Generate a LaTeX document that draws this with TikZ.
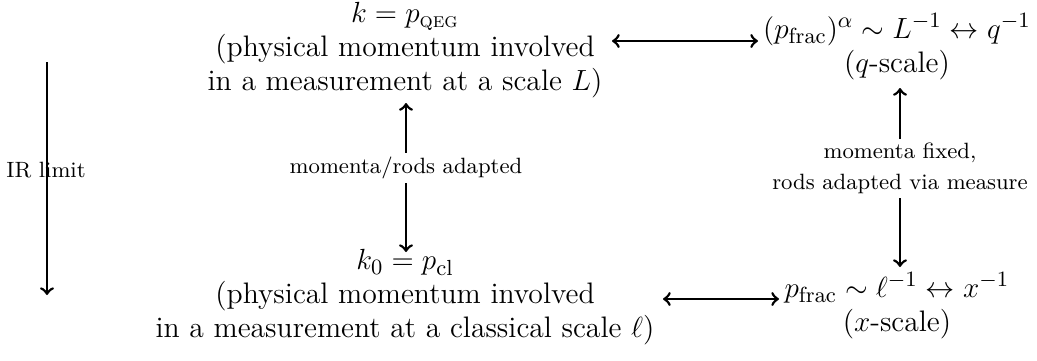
\documentclass[tikz,border=0pt]{standalone}
\usepackage{amsmath}
\begin{document}
\begin{tikzpicture}[x=0.4115pt,y=-0.4115pt,>=to,
  conn/.style={line width=1.1pt},
  blk/.style={align=center,font=\fontsize{12.2}{13.8}\selectfont,inner sep=0pt,anchor=base},
  lbl/.style={font=\fontsize{9.1}{12.8}\selectfont,align=center,inner sep=1.5pt},
  lblw/.style={lbl,fill=white}]
\useasboundingbox (0,0) rectangle (1037,360);
% nodes (anchored at the baseline of their last line)
\node[blk] (tl) at (405,90) {$k=p_{\textsc{qeg}}$\\(physical momentum involved\\in a measurement at a scale $L$)};
\node[blk] (tr) at (897,72) {$(p_{\mathrm{frac}})^{\alpha}\sim L^{-1}\leftrightarrow q^{-1}$\\($q$-scale)};
\node[blk] (bl) at (405,337) {$k_0=p_{\mathrm{cl}}$\\(physical momentum involved\\in a measurement at a classical scale $\ell$)};
\node[blk] (br) at (897,331) {$p_{\mathrm{frac}}\sim \ell^{-1}\leftrightarrow x^{-1}$\\($x$-scale)};
% coordinates
\coordinate (a1) at (612,41);
\coordinate (a2) at (758,41);
\coordinate (b1) at (663,299);
\coordinate (b2) at (779,299);
\coordinate (m1) at (406,103);
\coordinate (m2) at (406,252);
\coordinate (r1) at (900,88);
\coordinate (r2) at (900,267);
\coordinate (i1) at (47,62);
\coordinate (i2) at (47,295);
% connectors
\draw[conn,<->] (a1) -- (a2);
\draw[conn,<->] (b1) -- (b2);
\draw[conn,<->] (m1) -- node[lblw,pos=0.436] (ml) {momenta/rods adapted} (m2);
\draw[conn,<->] (r1) -- node[lblw,pos=0.45] (rl) {momenta fixed,\\rods adapted via measure} (r2);
\draw[conn,->] (i1) -- (i2);
\node[lbl] (il) at (46,170) {IR limit};
\end{tikzpicture}
\end{document}
